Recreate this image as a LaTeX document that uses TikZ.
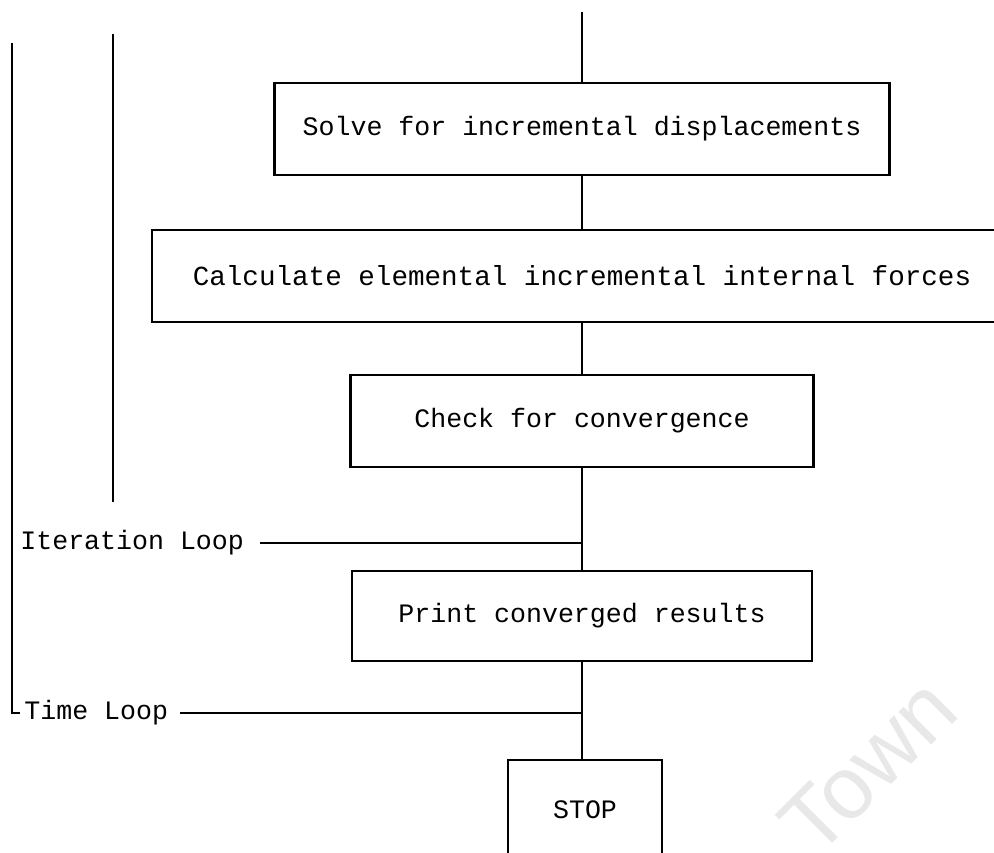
\documentclass[tikz,border=0pt]{standalone}
\usepackage{fontspec}
\setmonofont{Liberation Mono}
\newfontfamily\wmfont{Liberation Sans}

\begin{document}
\begin{tikzpicture}[
        x=0.5pt, y=-0.5pt,
        stepbox/.style={
        rectangle,
        draw,
        line width=1.1pt,
        inner sep=0pt,
        minimum height=46pt,
        font=\ttfamily\fontsize{13.3}{15}\selectfont
      },
      looplabel/.style={
        anchor=west,
        inner sep=2pt,
        font=\ttfamily\fontsize{13.3}{15}\selectfont
      },
      link/.style={
        line width=1.1pt
      }
    ]

    \useasboundingbox (0, 0) rectangle (994, 852);
    \clip (0, 0) rectangle (994, 852);

    \node[stepbox, minimum width=307.5pt] (solve) at (582, 129) {Solve for incremental displacements};
    \node[stepbox, minimum width=430pt, font=\ttfamily\fontsize{13.8}{15}\selectfont] (calc) at (582, 276) {Calculate elemental incremental internal forces};
    \node[stepbox, minimum width=231.5pt] (check) at (582, 421) {Check for convergence};
    \node[stepbox, minimum width=230pt, minimum height=45pt] (print) at (582, 616) {Print converged results};
    \node[stepbox, minimum width=77pt, minimum height=50pt] (stop) at (585, 810) {STOP};

    \node[looplabel] (iter) at (16, 543) {Iteration Loop};
    \node[looplabel] (time) at (20, 713) {Time Loop};

    \node[rotate=45, text=gray!18, font=\wmfont\fontsize{44}{44}\selectfont] (wm) at (868, 766) {Town};

    \coordinate (start) at (582, 12);
    \coordinate (ijoin) at (582, 543);
    \coordinate (tjoin) at (582, 713);
    \coordinate (ttop) at (12, 43);
    \coordinate (itop) at (113, 34);
    \coordinate (ibot) at (113, 502);

    \draw[link] (start) -- (solve);
    \draw[link] (solve) -- (calc);
    \draw[link] (calc) -- (check);
    \draw[link] (check) -- (ijoin) -- (print);
    \draw[link] (print) -- (tjoin) -- (stop.north -| tjoin);

    \draw[link] ([xshift=6pt]iter.east) -- (ijoin);
    \draw[link] ([xshift=4pt]time.east) -- (tjoin);

    \draw[link] (itop) -- (ibot);
    \draw[link] (ttop) |- (time.west);

  \end{tikzpicture}
\end{document}
